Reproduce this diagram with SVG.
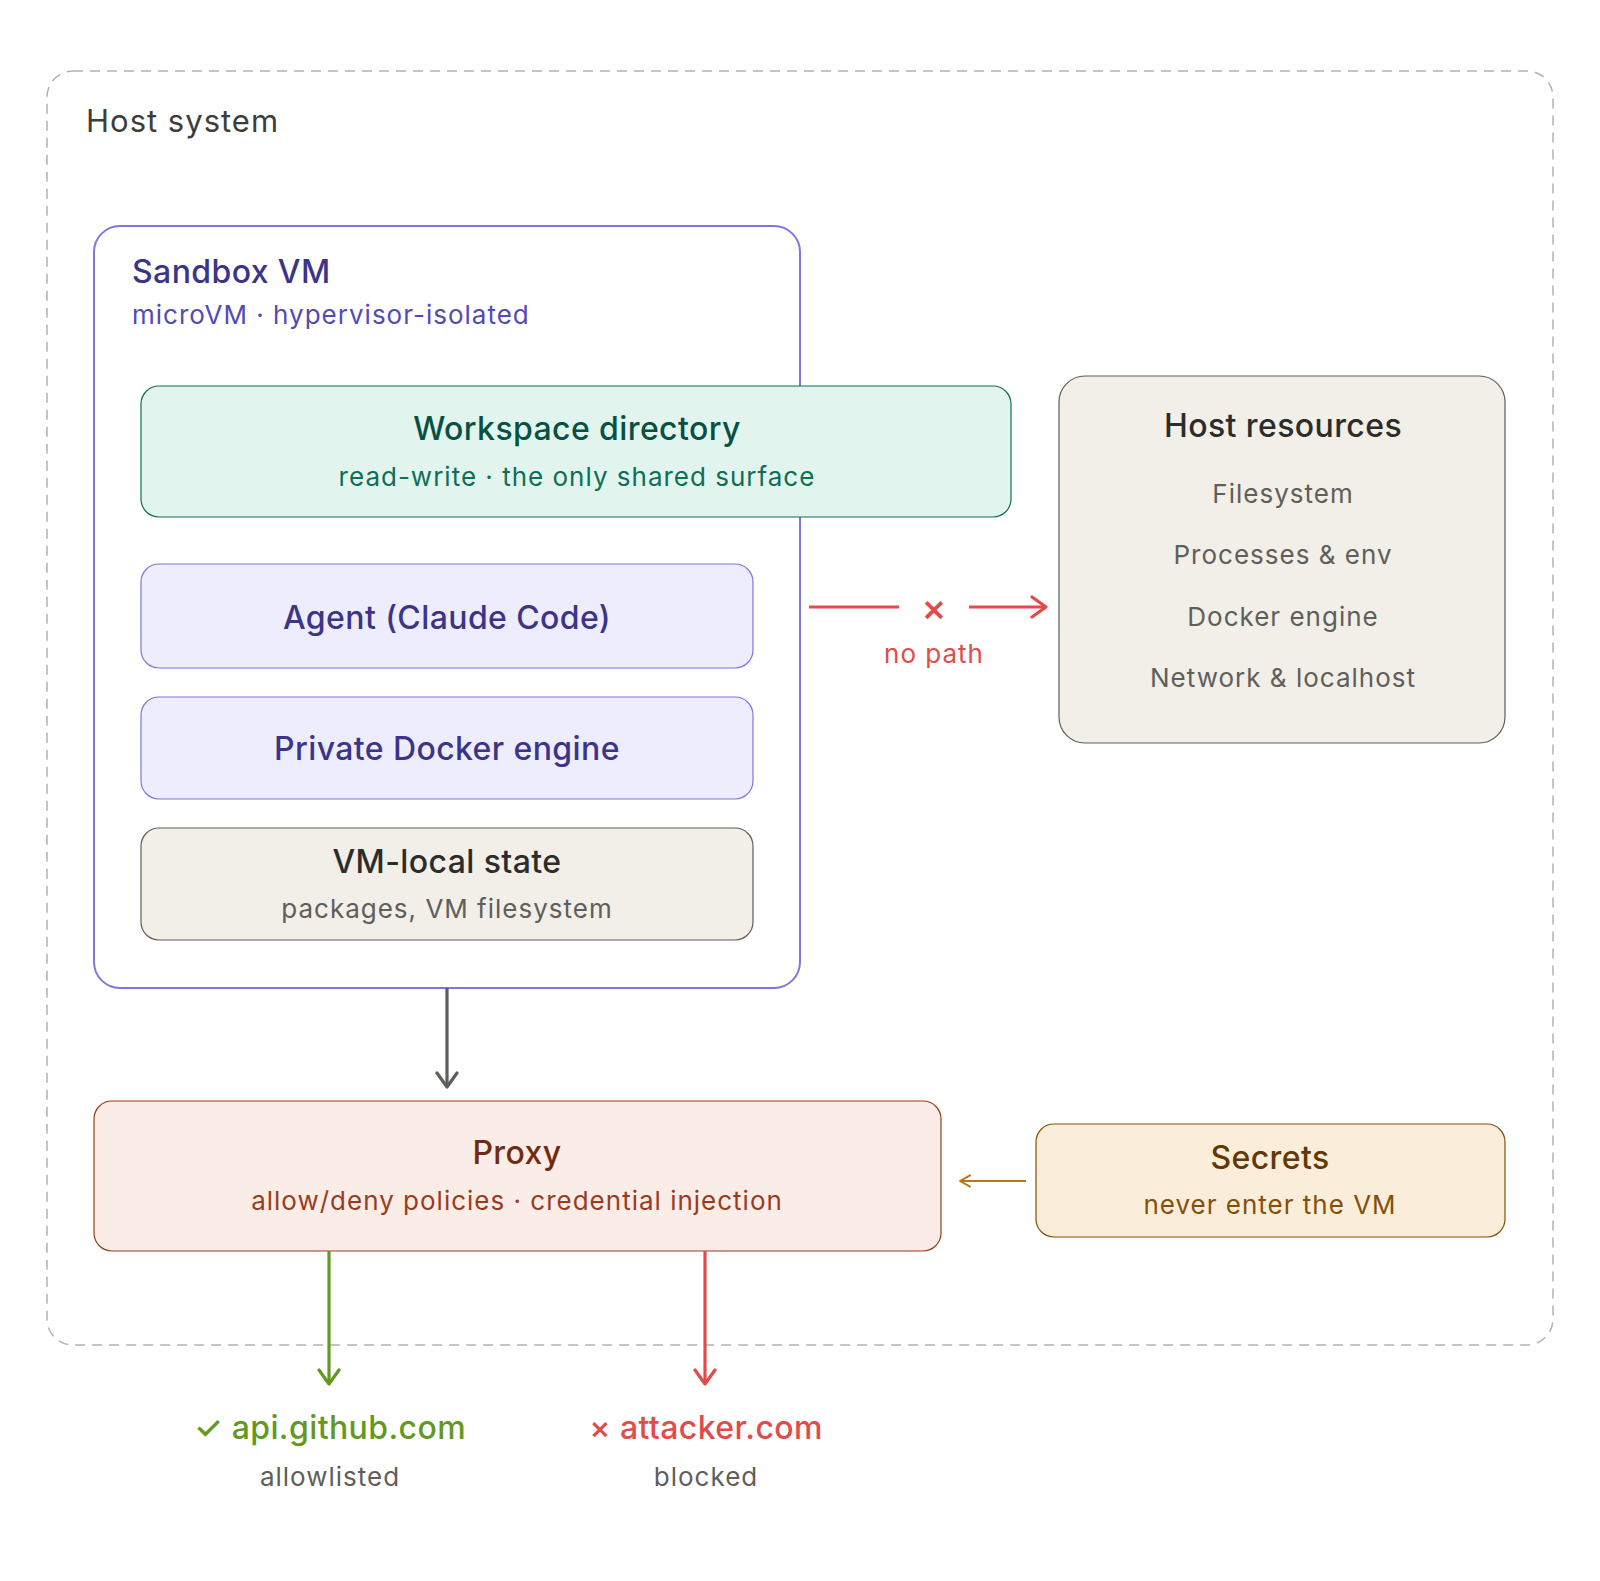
<svg xmlns="http://www.w3.org/2000/svg" width="1600" height="1581" viewBox="0 0 1600 1581">
<defs>
<marker id="ahg" viewBox="0 0 12 12" refX="10" refY="6" markerWidth="24" markerHeight="24" markerUnits="userSpaceOnUse" orient="auto">
<path d="M3 1 L10 6 L3 11" fill="none" stroke="#5f5e5a" stroke-width="1.6" stroke-linecap="round" stroke-linejoin="round"/>
</marker>
<marker id="ahr" viewBox="0 0 12 12" refX="10" refY="6" markerWidth="24" markerHeight="24" markerUnits="userSpaceOnUse" orient="auto">
<path d="M3 1 L10 6 L3 11" fill="none" stroke="#e24b4a" stroke-width="1.6" stroke-linecap="round" stroke-linejoin="round"/>
</marker>
<marker id="ahgr" viewBox="0 0 12 12" refX="10" refY="6" markerWidth="24" markerHeight="24" markerUnits="userSpaceOnUse" orient="auto">
<path d="M3 1 L10 6 L3 11" fill="none" stroke="#639922" stroke-width="1.6" stroke-linecap="round" stroke-linejoin="round"/>
</marker>
<marker id="ahy" viewBox="0 0 12 12" refX="10" refY="6" markerWidth="15" markerHeight="15" markerUnits="userSpaceOnUse" orient="auto">
<path d="M2 1.5 L10 6 L2 10.5" fill="none" stroke="#ba7517" stroke-width="1.6" stroke-linecap="round" stroke-linejoin="round"/>
</marker>
</defs>
<style>
text { font-family: Inter, "Noto Sans", "Liberation Sans", sans-serif; }
.t { font-size: 32px; font-weight: 500; text-anchor: middle; letter-spacing: 0.4px; }
.s { font-size: 26px; font-weight: 400; text-anchor: middle; letter-spacing: 1px; }
.purple { fill: #eeedfe; stroke: #7f77dd; stroke-width: 1.2; }
.gray { fill: #f1efe8; stroke: #5f5e5a; stroke-width: 1.2; }
.line { fill: none; stroke-width: 3.2; }
</style>
<rect width="1600" height="1581" fill="#ffffff"/>

<g id="host-system">
<rect x="47" y="71" width="1506" height="1274" rx="26" fill="none" stroke="#b4b2a9" stroke-width="1.5" stroke-dasharray="10 7"/>
<text x="86" y="132" style="font-size:31px;letter-spacing:1px;fill:#3d3d3a">Host system</text>
</g>

<g id="sandbox-vm">
<rect x="94" y="226" width="706" height="762" rx="26" fill="#ffffff" stroke="#7f77dd" stroke-width="2"/>
<text x="132" y="283" style="font-size:32px;font-weight:500;letter-spacing:0.4px;fill:#3c3489">Sandbox VM</text>
<text x="132" y="324" style="font-size:26px;letter-spacing:1px;fill:#534ab7">microVM · hypervisor-isolated</text>
</g>

<g id="workspace">
<rect x="141" y="386" width="870" height="131" rx="18" fill="#e1f5ee" stroke="#0f6e56" stroke-width="1.2"/>
<text class="t" x="577" y="440" fill="#085041">Workspace directory</text>
<text class="s" x="577" y="486" fill="#0f6e56">read-write · the only shared surface</text>
</g>

<g id="agent">
<rect class="purple" x="141" y="564" width="612" height="104" rx="18"/>
<text class="t" x="447" y="629" fill="#3c3489">Agent (Claude Code)</text>
</g>

<g id="docker">
<rect class="purple" x="141" y="697" width="612" height="102" rx="18"/>
<text class="t" x="447" y="760" fill="#3c3489">Private Docker engine</text>
</g>

<g id="vm-local">
<rect class="gray" x="141" y="828" width="612" height="112" rx="18"/>
<text class="t" x="447" y="873" fill="#2c2c2a">VM-local state</text>
<text class="s" x="447" y="918" fill="#5f5e5a">packages, VM filesystem</text>
</g>

<g id="host-resources">
<rect class="gray" x="1059" y="376" width="446" height="367" rx="26"/>
<text class="t" x="1283" y="437" fill="#2c2c2a">Host resources</text>
<text class="s" x="1283" y="503" fill="#5f5e5a">Filesystem</text>
<text class="s" x="1283" y="564" fill="#5f5e5a">Processes &amp; env</text>
<text class="s" x="1283" y="626" fill="#5f5e5a">Docker engine</text>
<text class="s" x="1283" y="687" fill="#5f5e5a">Network &amp; localhost</text>
</g>

<g id="proxy">
<rect x="94" y="1101" width="847" height="150" rx="18" fill="#faece7" stroke="#993c1d" stroke-width="1.2"/>
<text class="t" x="517" y="1164" fill="#712b13">Proxy</text>
<text class="s" x="517" y="1210" fill="#993c1d">allow/deny policies · credential injection</text>
</g>

<g id="secrets">
<rect x="1036" y="1124" width="469" height="113" rx="18" fill="#faeeda" stroke="#854f0b" stroke-width="1.2"/>
<text class="t" x="1270" y="1169" fill="#633806">Secrets</text>
<text class="s" x="1270" y="1214" fill="#854f0b">never enter the VM</text>
</g>

<g id="api-github">
<text class="t" x="330" y="1439" fill="#639922">✓ api.github.com</text>
<text class="s" x="330" y="1486" fill="#5f5e5a">allowlisted</text>
</g>

<g id="attacker">
<text class="t" x="706" y="1439" fill="#e24b4a">× attacker.com</text>
<text class="s" x="706" y="1486" fill="#5f5e5a">blocked</text>
</g>

<g id="connectors">
<line class="line" x1="809" y1="607" x2="899" y2="607" stroke="#e24b4a"/>
<text x="934" y="621" style="font-size:38px;font-weight:500;text-anchor:middle;fill:#e24b4a">×</text>
<line class="line" x1="969" y1="607" x2="1046" y2="607" stroke="#e24b4a" marker-end="url(#ahr)"/>
<text class="s" x="934" y="663" fill="#e24b4a">no path</text>
<line class="line" x1="447" y1="988" x2="447" y2="1087" stroke="#5f5e5a" marker-end="url(#ahg)"/>
<line x1="1026" y1="1181" x2="960" y2="1181" stroke="#ba7517" stroke-width="2" marker-end="url(#ahy)"/>
<line class="line" x1="329" y1="1251" x2="329" y2="1384" stroke="#639922" marker-end="url(#ahgr)"/>
<line class="line" x1="705" y1="1251" x2="705" y2="1384" stroke="#e24b4a" marker-end="url(#ahr)"/>
</g>
</svg>
